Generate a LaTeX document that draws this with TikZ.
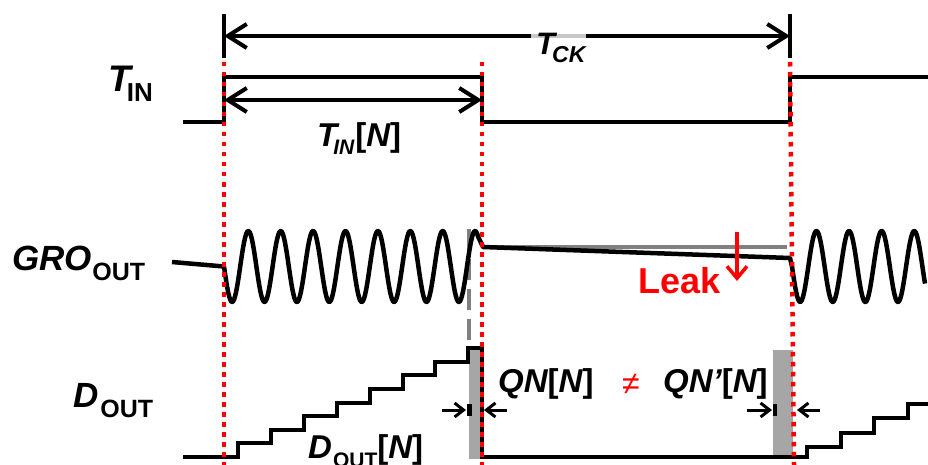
\documentclass[tikz,border=0pt]{standalone}
\usepackage{fontspec}
\setmainfont{Liberation Sans}
\usetikzlibrary{arrows.meta}
\definecolor{barg}{RGB}{166,166,166}
\definecolor{lineg}{RGB}{128,128,128}
\definecolor{bandg}{RGB}{200,200,200}
\newcommand\bifont[1]{\fontsize{#1}{#1}\selectfont\bfseries\itshape}
\newcommand\bufont[1]{\fontsize{#1}{#1}\selectfont\bfseries\upshape}
\begin{document}
\begin{tikzpicture}[x=1pt,y=-1pt,
  sig/.style={line width=4pt},
  wave/.style={line width=4.5pt, line join=round},
  reddot/.style={red, line width=4.5pt, dash pattern=on 4.5pt off 5.5pt},
  dimarrow/.style={line width=4pt, {Straight Barb[length=19pt,width=24pt]}-{Straight Barb[length=19pt,width=24pt]}},
  meas/.style={line width=3pt, -{Straight Barb[length=9pt,width=14pt]}},
  lbl/.style={inner sep=0pt, anchor=base west}]
\useasboundingbox (0,0) rectangle (928,465);

% grey marks (behind)
\fill[barg] (469,347) rectangle (481,459);
\fill[barg] (773,350) rectangle (793,456);
\draw[lineg, line width=4pt, dash pattern=on 21pt off 9pt] (469,229) -- (469,345);
\draw[lineg, line width=4pt] (483,247) -- (787,247);

% T_CK dimension
\draw[sig] (224,14) -- (224,58);
\draw[sig] (790,14) -- (790,58);
\draw[dimarrow] (224,36) -- (790,36);
\fill[bandg] (531,34) rectangle (586,38);

% T_IN signal
\draw[sig] (183,122) -- (224,122) -- (224,77) -- (482,77) -- (482,122) -- (790,122) -- (790,77) -- (928,77);
\draw[dimarrow] (224,100) -- (482,100);

% GRO_OUT
\draw[wave] (172,262) -- (224,266.5)
  -- plot[domain=224:478, samples=300, smooth] (\x, {266.5+35.5*sin(((\x-224)/32.4)*360)})
  -- (483,247) -- (790,258) -- (792,266.5)
  -- plot[domain=792:925, samples=160, smooth] (\x, {266.5+35.5*sin(((\x-792)/32.6)*360)});

% Leak arrow
\draw[red, line width=3.5pt, -{Straight Barb[length=12pt,width=20pt]}] (737,232) -- (737,281);

% D_OUT staircase
\draw[sig, line join=miter] (183,457) -| (238,443.4) -| (270.9,429.8) -| (303.8,416.2) -| (336.7,402.6)
  -| (369.6,389) -| (402.5,375.4) -| (435.4,361.8) -| (468.3,348.2) -| (482,457)
  -- (807,457) -| (807,447) -| (840.5,432.5) -| (874,418) -| (907.5,403.5) -- (928,403.5);

% quantization arrows
\draw[meas] (442,410) -- (466,410);
\draw[line width=4.5pt] (469.5,404) -- (469.5,416);
\draw[meas] (507,410) -- (484,410);
\draw[meas] (747,410) -- (772,410);
\draw[line width=4.5pt] (775,404) -- (775,416);
\draw[meas] (820,410) -- (797,410);

% red dotted guides
\draw[reddot] (224,62) -- (224,465);
\draw[reddot] (482,62) -- (482,465);
\draw[reddot] (790,62) -- (794,465);

% labels
\node[lbl] (ltin) at (108,92) {\bifont{37}T\kern-4pt\raisebox{-10pt}{\bufont{26}IN}};
\node[lbl] (lgro) at (12,270) {\bifont{35}GRO\kern0.5pt\raisebox{-10pt}{\bufont{25}OUT}};
\node[lbl] (ldout) at (73,407) {\bifont{35}D\kern2pt\raisebox{-10pt}{\bufont{25}OUT}};
\node[lbl] (ltck) at (536,55) {\bifont{31}T\kern-3pt\raisebox{-8pt}{\bifont{23}CK}};
\node[lbl] (ltinn) at (317,147) {\bifont{33}T\kern-4pt\raisebox{-8pt}{\bifont{21}IN}\kern1pt\bufont{33}[\bifont{33}N\bufont{33}]};
\node[lbl] (lqn) at (498,392) {\bifont{33}QN\bufont{33}[\bifont{33}N\bufont{33}]};
\node[lbl] (lqnp) at (663,392) {\bifont{33}QN’\bufont{33}[\bifont{33}N\bufont{33}]};
\node[inner sep=0pt, red] (lneq) at (631,384) {\fontsize{32}{32}\selectfont ≠};
\node[lbl, red] (lleak) at (638,293) {\bufont{36}Leak};
\node[lbl] (ldoutn) at (308,458) {\bifont{33}D\kern1pt\raisebox{-9pt}{\bufont{21}OUT}\bufont{33}[\bifont{33}N\bufont{33}]};
\end{tikzpicture}
\end{document}
